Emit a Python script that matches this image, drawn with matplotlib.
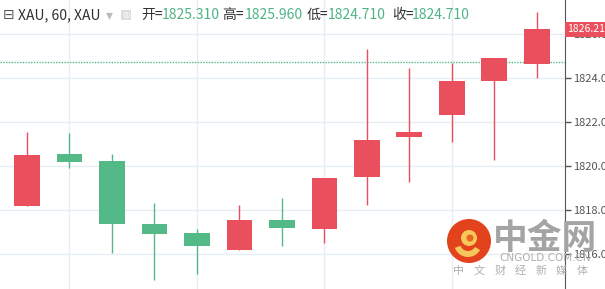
import matplotlib.pyplot as plt
from matplotlib.patches import Circle, Rectangle, Wedge

plt.rcParams['font.family'] = ['Noto Sans CJK SC', 'DejaVu Sans']

# hourly XAU candles
opens = [1818.20, 1820.53, 1820.21, 1817.38, 1816.95, 1816.20, 1817.55,
         1817.14, 1819.49, 1821.30, 1822.30, 1823.86, 1824.65]
closes = [1820.50, 1820.18, 1817.35, 1816.89, 1816.35, 1817.55, 1817.20,
          1819.44, 1821.18, 1821.53, 1823.85, 1824.90, 1826.21]
highs = [1821.56, 1821.49, 1820.53, 1818.32, 1817.14, 1818.23, 1818.55,
         1819.44, 1825.32, 1824.45, 1824.67, 1824.90, 1827.00]
lows = [1818.20, 1819.92, 1816.03, 1814.83, 1815.10, 1816.20, 1816.38,
        1816.50, 1818.24, 1819.29, 1821.10, 1820.26, 1824.01]
price_ticks = [1816, 1818, 1820, 1822, 1824, 1826]
last_price = 1826.21
ref_line = 1824.71

header = [("⊟", 3, "#555555"), ("XAU, 60, XAU", 18, "#333333"), ("▾", 106, "#bbbbbb"),
          ("开=", 141, "#333333"), ("1825.310", 162, "#4fb485"),
          ("高=", 222, "#333333"), ("1825.960", 245, "#4fb485"),
          ("低=", 307, "#333333"), ("1824.710", 328, "#4fb485"),
          ("收=", 392, "#333333"), ("1824.710", 412, "#4fb485")]
slogan = ["中", "文", "财", "经", "新", "媒", "体"]

up = "#ea4f5d"
down = "#53b987"

W, H = 605, 289
fig = plt.figure(figsize=(W / 100, H / 100), dpi=100)
ax = fig.add_axes([0, 0, 565 / W, 1])

ax.set_xlim(-0.635, 12.66)
ax.set_ylim(1814.41, 1827.55)

for i in range(len(opens)):
    o, c = opens[i], closes[i]
    col = up if c >= o else down
    ax.vlines(i, lows[i], highs[i], color=col, lw=1, zorder=2)
    ax.bar(i, abs(c - o), bottom=min(o, c), width=0.61, color=col, zorder=3)

ax.axhline(ref_line, color=down, lw=1, ls=(0, (1, 1)), zorder=1)

# grid
ax.set_yticks(price_ticks)
ax.set_xticks([1, 4, 7, 10])
ax.grid(True, color="#e6edf3", lw=1)
ax.set_axisbelow(True)
ax.tick_params(axis="x", length=0, labelbottom=False)
ax.yaxis.tick_right()
ax.tick_params(axis="y", direction="out", length=4, width=1, color="#555555",
               labelsize=8, labelcolor="#555555", pad=2)
ax.set_yticklabels(["%.2f" % v for v in price_ticks])
for s in ["top", "left", "bottom"]:
    ax.spines[s].set_visible(False)
ax.spines["right"].set_color("#555555")

# last price label
ax.text(1.004, last_price, "%.2f" % last_price, transform=ax.get_yaxis_transform(),
        ha="left", va="center", fontsize=7.5, color="white", clip_on=False,
        bbox=dict(boxstyle="square,pad=0.25", fc=up, ec="none"), zorder=5)

# header
for txt, x, col in header:
    fig.text(x / W, 1 - 15 / H, txt, fontsize=10, color=col, ha="left", va="center",
             family=['DejaVu Sans'] if txt in ("⊟", "▾") else ['Noto Sans CJK SC', 'DejaVu Sans'])
fig.patches.append(Rectangle((121 / W, 1 - 20 / H), 10 / W, 10 / H, transform=fig.transFigure,
                             fc="#dddddd", ec="none"))
fig.text(126 / W, 1 - 15 / H, "◎", fontsize=6, color="white", ha="center", va="center",
         family=['DejaVu Sans'])

# watermark logo, in inches
inch = fig.dpi_scale_trans
cx, cy = 4.69, (H - 241) / 100
fig.patches.append(Circle((cx, cy), 0.22, transform=inch, fc="#e2421c", ec="none"))
fig.patches.append(Wedge((cx - 0.01, cy - 0.02), 0.14, 200, 330, width=0.06,
                         transform=inch, fc="#f6c75a", ec="none"))
fig.patches.append(Circle((cx, cy + 0.03), 0.08, transform=inch, fc="#f6c75a", ec="none"))
fig.patches.append(Circle((cx + 0.01, cy + 0.03), 0.035, transform=inch, fc="#e8641f", ec="none"))

fig.text(545 / W, 1 - 239 / H, "中金网", fontsize=25, color="#a4a4a4", ha="center",
         va="center", weight="bold")
fig.text(545 / W, 1 - 258 / H, "CNGOLD.COM.CN", fontsize=7.5, color="#b0b0b0",
         ha="center", va="center", family=['DejaVu Sans'])
for k, ch in enumerate(slogan):
    fig.text((459 + 20.5 * k) / W, 1 - 271 / H, ch, fontsize=8, color="#b0b0b0",
             ha="center", va="center")

fig.savefig("out.png", dpi=100)
